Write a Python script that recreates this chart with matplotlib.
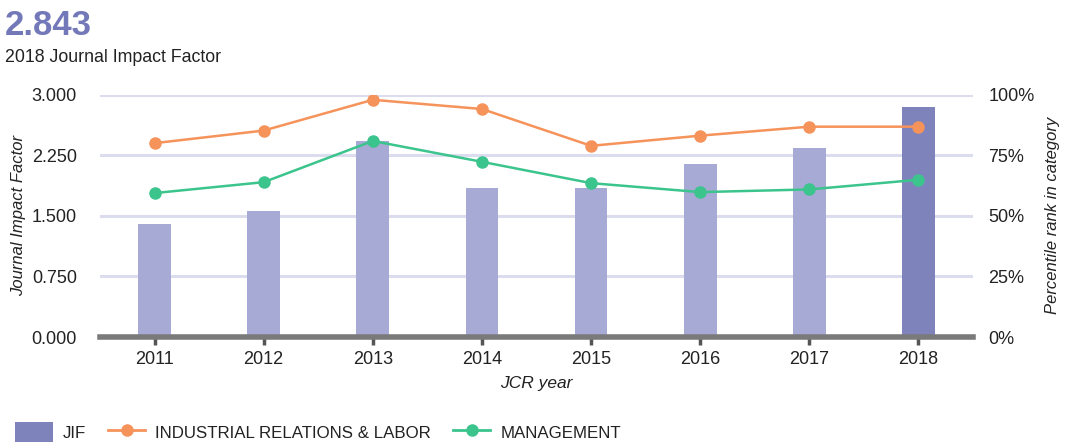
import matplotlib
matplotlib.use("Agg")
import matplotlib.pyplot as plt
from matplotlib.patches import Patch
from matplotlib.lines import Line2D

years = ["2011", "2012", "2013", "2014", "2015", "2016", "2017", "2018"]
jif = [1.397, 1.562, 2.426, 1.851, 1.843, 2.145, 2.339, 2.843]
industrial = [80.0, 85.2, 97.9, 94.1, 78.9, 83.1, 86.8, 86.8]
management = [59.4, 63.9, 80.9, 72.3, 63.5, 59.8, 60.9, 64.9]
left_ticks = [0.0, 0.75, 1.5, 2.25, 3.0]
right_ticks = [0, 25, 50, 75, 100]

plt.rcParams['font.family'] = ['Liberation Sans', 'DejaVu Sans']

bar_light = "#a7aad4"
bar_dark = "#7e83bb"
orange = "#f5935b"
green = "#3cc48d"
grid_c = "#dcdcef"
base_c = "#7a7a7a"
text_c = "#222222"

fig = plt.figure(figsize=(10.73, 4.43), dpi=100)
ax = fig.add_axes([100/1073, 1-337/443, 873/1073, (337-94.7)/443])
x = list(range(len(years)))
colors = [bar_light]*(len(years)-1) + [bar_dark]
ax.bar(x, jif, width=0.30, color=colors, zorder=2)
ax.set_xlim(-0.5, len(years)-0.5)
ax.set_ylim(0, 3.0)
ax.set_yticks(left_ticks)
ax.set_yticklabels([f"{v:.3f}" for v in left_ticks])
ax.yaxis.grid(True, color=grid_c, linewidth=2.2, zorder=0)
ax.set_axisbelow(True)
for s in ["top", "left", "right"]:
    ax.spines[s].set_visible(False)
ax.spines["bottom"].set_color(base_c)
ax.spines["bottom"].set_linewidth(4)
ax.spines["bottom"].set_zorder(5)
ax.set_xticks(x)
ax.set_xticklabels(years)
ax.tick_params(axis="x", length=6, width=2.5, color="#555555", labelsize=13, pad=4, labelcolor=text_c)
ax.tick_params(axis="y", length=0, labelsize=13, pad=16.5, labelcolor=text_c)
ax.set_xlabel("JCR year", fontstyle="italic", fontsize=12.5, color=text_c, labelpad=6)
ax.set_ylabel("Journal Impact Factor", fontstyle="italic", fontsize=12, color=text_c)
ax.yaxis.set_label_coords(-0.085, 0.5)

ax2 = ax.twinx()
ax2.set_ylim(0, 100)
ax2.set_yticks(right_ticks)
ax2.set_yticklabels([f"{v}%" for v in right_ticks])
ax2.tick_params(axis="y", length=0, labelsize=13, pad=11, labelcolor=text_c)
for s in ["top", "left", "right", "bottom"]:
    ax2.spines[s].set_visible(False)
ax2.plot(x, industrial, color=orange, lw=1.8, marker="o", ms=8, zorder=4)
ax2.plot(x, management, color=green, lw=1.8, marker="o", ms=8, zorder=4)
ax2.set_ylabel("Percentile rank in category", fontstyle="italic", fontsize=12, color=text_c)
ax2.yaxis.set_label_coords(1.083, 0.5)

fig.text(5/1073, 1-35/443, "2.843", fontsize=25, fontweight="bold", color="#7378b8", ha="left", va="baseline")
fig.text(5/1073, 1-62/443, "2018 Journal Impact Factor", fontsize=12.8, color=text_c, ha="left", va="baseline")

handles = [
    Patch(facecolor=bar_dark, edgecolor="none"),
    Line2D([0], [0], color=orange, lw=2, marker="o", ms=8),
    Line2D([0], [0], color=green, lw=2, marker="o", ms=8),
]
labels = ["JIF", "INDUSTRIAL RELATIONS & LABOR", "MANAGEMENT"]
fig.legend(handles, labels, loc="center left", bbox_to_anchor=(0.0, 1-432/443), ncol=3,
           frameon=False, fontsize=12.2, handlelength=2.2, handleheight=1.4,
           columnspacing=1.3, handletextpad=0.6, labelcolor=text_c)

fig.savefig("out.png", dpi=100)
